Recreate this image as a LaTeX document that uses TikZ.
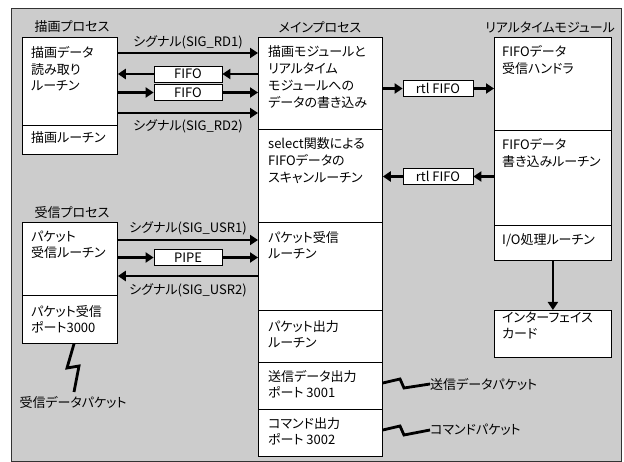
\documentclass[tikz,border=0pt]{standalone}
\usepackage{fontspec}
\setmainfont{Noto Sans CJK JP}[RawFeature=+palt]
\usetikzlibrary{arrows.meta}
\newcommand\jfs{\fontsize{13pt}{16.8pt}\selectfont}
\newcommand\jfss{\fontsize{13pt}{16pt}\selectfont}
\definecolor{bggray}{HTML}{CCCCCC}
\begin{document}
\begin{tikzpicture}[x=1pt,y=-1pt,
  sec/.style={draw, fill=white, line width=0.8pt, inner sep=0pt, anchor=north west},
  txt/.style={anchor=north west, inner sep=0pt, align=left, font=\jfs},
  txts/.style={anchor=north west, inner sep=0pt, align=left, font=\jfss},
  lbl/.style={inner sep=0pt, font=\jfs},
  fbox/.style={draw, fill=white, line width=0.8pt, minimum width=68pt, minimum height=16pt, inner sep=0pt, font=\jfs},
  arr/.style={line width=2.6pt, -{Triangle[length=8pt,width=10pt]}},
  bolt/.style={line width=2.8pt, miter limit=20}]
\useasboundingbox (0,0) rectangle (624,462);
\node[draw=black!80, fill=bggray, line width=0.9pt, inner sep=0pt, anchor=north west,
  minimum width=610pt, minimum height=453pt] (frame) at (11,8) {};

% region titles
\node[lbl] (tdraw) at (72,27) {描画プロセス};
\node[lbl] (tmain) at (320,27) {メインプロセス};
\node[lbl] (treal) at (550,27) {リアルタイムモジュール};
\node[lbl] (trecv) at (72,213) {受信プロセス};

% draw process
\node[sec, minimum width=95pt, minimum height=88pt] (d1) at (22,37) {};
\node[sec, minimum width=95pt, minimum height=29pt] (d2) at (22,125) {};
\node[txt] (d1t) at (31,46) {描画データ\\読み取り\\ルーチン};
\node[txt] (d2t) at (31,131.5) {描画ルーチン};

% receive process
\node[sec, minimum width=95pt, minimum height=73pt] (r1) at (22,222) {};
\node[sec, minimum width=95pt, minimum height=48pt] (r2) at (22,295) {};
\node[txts] (r1t) at (31,230.5) {パケット\\受信ルーチン};
\node[txts] (r2t) at (31,305.5) {パケット受信\\ポート3000};

% main process
\node[sec, minimum width=124pt, minimum height=92pt] (m1) at (258,37) {};
\node[sec, minimum width=124pt, minimum height=93pt] (m2) at (258,129) {};
\node[sec, minimum width=124pt, minimum height=88pt] (m3) at (258,222) {};
\node[sec, minimum width=124pt, minimum height=52pt] (m4) at (258,310) {};
\node[sec, minimum width=124pt, minimum height=47pt] (m5) at (258,362) {};
\node[sec, minimum width=124pt, minimum height=47pt] (m6) at (258,409) {};
\node[txt] (m1t) at (268,45.5) {描画モジュールと\\リアルタイム\\モジュールへの\\データの書き込み};
\node[txt] (m2t) at (268,137.5) {select関数による\\FIFOデータの\\スキャンルーチン};
\node[txts] (m3t) at (268,231.5) {パケット受信\\ルーチン};
\node[txts] (m4t) at (268,320.5) {パケット出力\\ルーチン};
\node[txts] (m5t) at (268,370.5) {送信データ出力\\ポート 3001};
\node[txts] (m6t) at (268,417.5) {コマンド出力\\ポート 3002};

% realtime module
\node[sec, minimum width=117pt, minimum height=93pt] (t1) at (494,37) {};
\node[sec, minimum width=117pt, minimum height=95pt] (t2) at (494,130) {};
\node[sec, minimum width=117pt, minimum height=35pt] (t3) at (494,225) {};
\node[sec, minimum width=117pt, minimum height=47pt] (card) at (494,310) {};
\node[txt] (t1t) at (502,45.5) {FIFOデータ\\受信ハンドラ};
\node[txt] (t2t) at (502,138.5) {FIFOデータ\\書き込みルーチン};
\node[txt] (t3t) at (502,233.5) {I/O処理ルーチン};
\node[txts] (cardt) at (502,311.5) {インターフェイス\\カード};

% intermediate boxes
\node[fbox] (fifo1) at (188,74) {FIFO};
\node[fbox] (fifo2) at (188,92.5) {FIFO};
\node[fbox] (pipe) at (188,257.5) {PIPE};
\node[fbox, minimum width=70pt] (rtl1) at (438,88.5) {rtl FIFO};
\node[fbox, minimum width=70pt] (rtl2) at (438,176.5) {rtl FIFO};

% helper rows
\coordinate (y1) at (0,53);
\coordinate (y4) at (0,113);
\coordinate (y5) at (0,240);
\coordinate (y6) at (0,276);

% draw <-> main
\draw[arr] (d1.east |- y1) -- (m1.west |- y1);
\node[lbl] (ls1) at (188,42) {シグナル(SIG\_RD1)};
\draw[arr] (m1.west |- fifo1) -- (fifo1.east);
\draw[arr] (fifo1.west) -- (d1.east |- fifo1);
\draw[arr] (d1.east |- fifo2) -- (fifo2.west);
\draw[arr] (fifo2.east) -- (m1.west |- fifo2);
\draw[arr] (d1.east |- y4) -- (m1.west |- y4);
\node[lbl] (ls2) at (188,126) {シグナル(SIG\_RD2)};

% recv <-> main
\draw[arr] (r1.east |- y5) -- (m3.west |- y5);
\node[lbl] (ls3) at (188,228) {シグナル(SIG\_USR1)};
\draw[arr] (r1.east |- pipe) -- (pipe.west);
\draw[arr] (pipe.east) -- (m3.west |- pipe);
\draw[arr] (m3.west |- y6) -- (r1.east |- y6);
\node[lbl] (ls4) at (188,290) {シグナル(SIG\_USR2)};

% main <-> realtime
\draw[arr] (m1.east |- rtl1) -- (rtl1.west);
\draw[arr] (rtl1.east) -- (t1.west |- rtl1);
\draw[arr] (t2.west |- rtl2) -- (rtl2.east);
\draw[arr] (rtl2.west) -- (m2.east |- rtl2);

% realtime -> card
\draw[arr] (t3.south) -- (card.north);

% packets
\coordinate (b1) at (74,392);
\draw[bolt] (r2.south -| b1) -- (67,368) -- (79,366) -- (b1);
\node[lbl] (lrecv) at (73,402) {受信データパケット};

\node[lbl, anchor=west] (lsend) at (430,384) {送信データパケット};
\draw[bolt] (m5.east |- 0,383) -- (400,379) -- (404,388) -- (lsend.west);
\node[lbl, anchor=west] (lcmd) at (430,430) {コマンドパケット};
\draw[bolt] (m6.east |- 0,430) -- (400,426) -- (404,435) -- (lcmd.west);
\end{tikzpicture}
\end{document}
